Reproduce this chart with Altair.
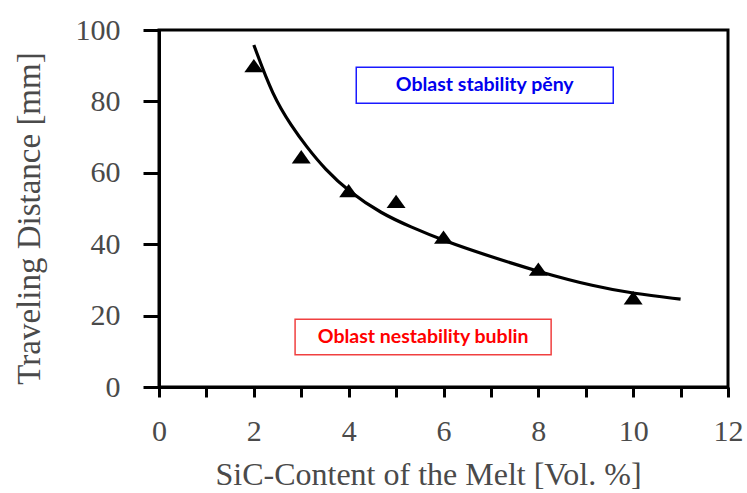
import altair as alt
import pandas as pd

# measured points (triangles)
pts_x = [2, 3, 4, 5, 6, 8, 10]
pts_y = [90, 64.5, 55, 52, 42, 33, 25]

# fitted curve
curve_x = [2.0, 2.4, 2.8, 3.1, 3.5, 4.0, 4.7, 5.3, 6.0, 7.0, 8.0, 9.2, 10.0, 11.0]
curve_y = [95.8, 81.5, 73.0, 67.5, 61.0, 54.8, 48.5, 44.9, 41.0, 36.5, 32.3, 28.1, 26.2, 24.6]

# annotation labels
blue_text = ["Oblast stability pěny"]
blue_box = {"x1": [4.16], "x2": [9.58], "y1": [79.5], "y2": [89.6]}
red_text = ["Oblast nestability bublin"]
red_box = {"x1": [2.87], "x2": [8.27], "y1": [9.0], "y2": [19.0]}

x_ticks = list(range(0, 13))
y_ticks = list(range(0, 101, 10))

pts = pd.DataFrame({"x": pts_x, "y": pts_y})
curve = pd.DataFrame({"x": curve_x, "y": curve_y})

GRAY = "#4a4a4a"
xscale = alt.Scale(domain=[0, 12], nice=False, zero=True)
yscale = alt.Scale(domain=[0, 100], nice=False, zero=True)

xaxis = alt.Axis(
    title="SiC-Content of the Melt [Vol. %]",
    values=x_ticks,
    labelExpr="datum.value % 2 == 0 ? datum.label : ''",
    grid=False, domainColor="black", domainWidth=3,
    tickColor="black", tickWidth=3, tickSize=10,
    labelFont="Liberation Serif", labelFontSize=30, labelColor=GRAY,
    labelPadding=19, labelFlush=False,
    titleFont="Liberation Serif", titleFontSize=32, titleColor=GRAY,
    titleFontWeight="normal", titleX=269, titleY=97,
    titleBaseline="alphabetic", titleAlign="center",
)
yaxis = alt.Axis(
    title="Traveling Distance [mm]",
    values=y_ticks,
    labelExpr="datum.value % 20 == 0 ? datum.label : ''",
    grid=False, domainColor="black", domainWidth=3,
    tickColor="black", tickWidth=3, tickSize=16,
    labelFont="Liberation Serif", labelFontSize=30, labelColor=GRAY,
    labelPadding=23, labelFlush=False,
    titleFont="Liberation Serif", titleFontSize=33, titleColor=GRAY,
    titleFontWeight="normal", titleX=-130, titleY=188,
    titleBaseline="middle", titleAlign="center", titleAngle=270,
)

line = alt.Chart(curve).mark_line(
    color="black", strokeWidth=3.2, interpolate="basis"
).encode(
    x=alt.X("x:Q", scale=xscale, axis=xaxis),
    y=alt.Y("y:Q", scale=yscale, axis=yaxis),
)

points = alt.Chart(pts).mark_point(
    shape="M0,-0.7L1,0.7L-1,0.7Z", filled=True, color="black", opacity=1, size=360
).encode(x=alt.X("x:Q", scale=xscale), y=alt.Y("y:Q", scale=yscale))


def label_layers(text, box, color, size, stroke):
    df = pd.DataFrame(box)
    df["text"] = text
    df["xm"] = (df["x1"] + df["x2"]) / 2
    df["ym"] = (df["y1"] + df["y2"]) / 2
    rect = alt.Chart(df).mark_rect(
        fill="white", stroke=stroke, strokeWidth=1.5
    ).encode(
        x=alt.X("x1:Q", scale=xscale), x2="x2:Q",
        y=alt.Y("y1:Q", scale=yscale), y2="y2:Q",
    )
    txt = alt.Chart(df).mark_text(
        font="Lato", fontWeight="bold", fontSize=size, color=color,
        align="center", baseline="middle"
    ).encode(
        x=alt.X("xm:Q", scale=xscale), y=alt.Y("ym:Q", scale=yscale), text="text:N",
    )
    return [rect, txt]


blue_layers = label_layers(blue_text, blue_box, "#0000ee", 19.5, "#1a1aff")
red_layers = label_layers(red_text, red_box, "#ff0000", 19.5, "#f04040")

chart = alt.layer(line, points, *blue_layers, *red_layers).properties(
    width=569, height=357,
    autosize=alt.AutoSizeParams(type="none"),
    padding={"left": 159, "top": 30, "right": 19, "bottom": 106},
    background="white",
).configure_view(stroke="black", strokeWidth=3)

chart.save("out.html", embed_options={"renderer": "svg", "actions": False})
